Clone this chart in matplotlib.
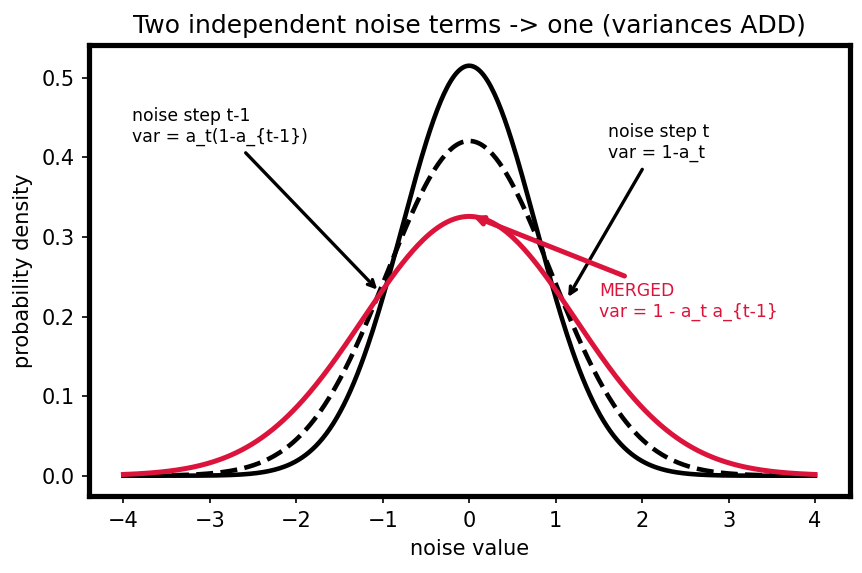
import numpy as np
import matplotlib
matplotlib.use("Agg")
import matplotlib.pyplot as plt

# Data: variances of the two independent noise terms and their sum
var_step_t = 0.6        # solid black curve (peak ~0.515)
var_step_tm1 = 0.9      # dashed black curve (peak ~0.42)
var_merged = var_step_t + var_step_tm1   # red curve (peak ~0.326)
x_range = [-4, 4]
n_points = 400

title = "Two independent noise terms -> one (variances ADD)"
xlabel = "noise value"
ylabel = "probability density"


def gauss(x, var):
    return np.exp(-x**2 / (2 * var)) / np.sqrt(2 * np.pi * var)


x = np.linspace(x_range[0], x_range[1], n_points)

fig = plt.figure(figsize=(5.75, 3.82), dpi=150)
ax = fig.add_axes([0.103, 0.134, 0.882, 0.787])

red = "#DC143C"
ax.plot(x, gauss(x, var_step_t), color="black", lw=2.2)
ax.plot(x, gauss(x, var_step_tm1), color="black", lw=2.2, ls="--")
ax.plot(x, gauss(x, var_merged), color=red, lw=2.4)

ax.annotate("noise step t-1\nvar = a_t(1-a_{t-1})", xy=(-1.03, 0.23), xytext=(-3.9, 0.42),
            fontsize=8.3, arrowprops=dict(arrowstyle="->", color="black", lw=1.6))
ax.annotate("noise step t\nvar = 1-a_t", xy=(1.12, 0.22), xytext=(1.6, 0.4),
            fontsize=8.3, arrowprops=dict(arrowstyle="->", color="black", lw=1.6))
ax.annotate("MERGED\nvar = 1 - a_t a_{t-1}", xy=(0.0, 0.328), xytext=(1.5, 0.2),
            fontsize=8.3, color=red,
            arrowprops=dict(arrowstyle="->", color=red, lw=2.4))

ax.set_title(title, fontsize=12)
ax.set_xlabel(xlabel)
ax.set_ylabel(ylabel)
for s in ax.spines.values():
    s.set_linewidth(2.5)

fig.savefig("out.png", dpi=150)
